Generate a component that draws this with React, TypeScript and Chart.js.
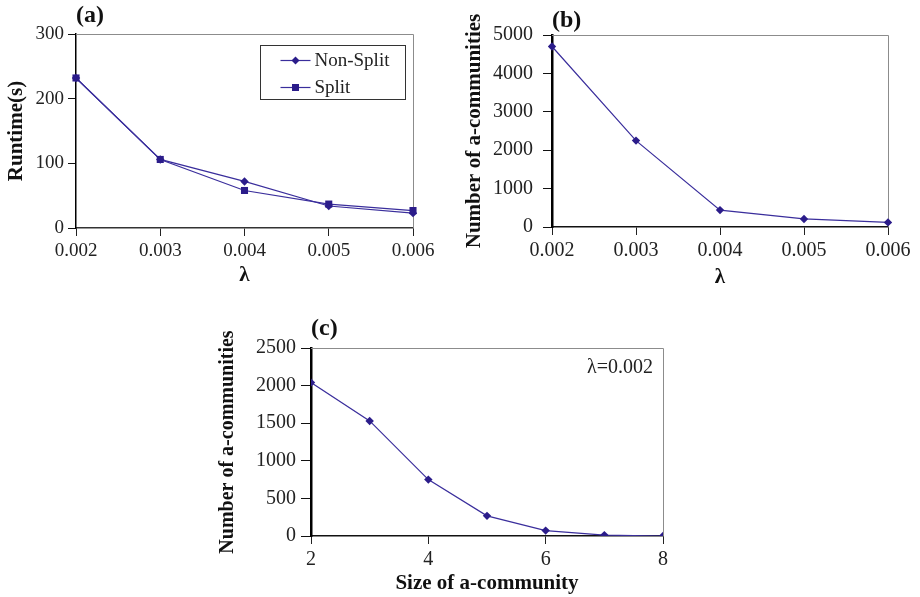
import React, { useEffect, useRef } from 'react';
import { Chart, registerables } from 'chart.js';

Chart.register(...registerables);

// λ thresholds shared by panels (a) and (b)
const lambdaLabels = ['0.002', '0.003', '0.004', '0.005', '0.006'];
// Panel (a): runtime in seconds
const runtimeNonSplit = [232, 106, 72, 34, 23];
const runtimeSplit = [232, 106, 58, 37, 27];
// Panel (b): number of a-communities per λ
const communitiesByLambda = [4700, 2250, 440, 210, 120];
// Panel (c): distribution of a-community sizes at λ = 0.002
const communitySizes = [2, 3, 4, 5, 6, 7, 8];
const communitiesBySize = [2040, 1530, 750, 268, 72, 12, 0];
const sizeTicks = [2, 4, 6, 8];

const SERIF = "'Liberation Serif', 'Times New Roman', serif";
const LINE = '#3a2e9c';
const MARK = '#2b1c8a';
const TEXT = '#222';

// Gray top/right edges of the plot box
const framePlugin = {
  id: 'frame',
  beforeDatasetsDraw(chart: any) {
    const { ctx, chartArea: a } = chart;
    ctx.save();
    ctx.strokeStyle = '#8c8c8c';
    ctx.lineWidth = 1;
    ctx.beginPath();
    ctx.moveTo(a.left, Math.round(a.top) + 0.5);
    ctx.lineTo(Math.round(a.right) + 0.5, Math.round(a.top) + 0.5);
    ctx.lineTo(Math.round(a.right) + 0.5, a.bottom);
    ctx.stroke();
    ctx.restore();
  },
};

// Boxed legend inside the plot area of panel (a)
const boxedLegendPlugin = {
  id: 'boxedLegend',
  afterDraw(chart: any) {
    const { ctx, chartArea: a } = chart;
    const w = 145;
    const h = 54;
    const x0 = Math.round(a.right - 8 - w) + 0.5;
    const y0 = Math.round(a.top + 11) + 0.5;
    ctx.save();
    ctx.strokeStyle = '#333';
    ctx.lineWidth = 1;
    ctx.strokeRect(x0, y0, w, h);
    ctx.font = `19px ${SERIF}`;
    ctx.fillStyle = TEXT;
    ctx.textBaseline = 'middle';
    ctx.textAlign = 'left';
    chart.data.datasets.forEach((ds: any, i: number) => {
      const y = y0 + 15 + i * 27;
      ctx.strokeStyle = LINE;
      ctx.lineWidth = 1.2;
      ctx.beginPath();
      ctx.moveTo(x0 + 20, y);
      ctx.lineTo(x0 + 50, y);
      ctx.stroke();
      ctx.fillStyle = MARK;
      ctx.beginPath();
      if (ds.pointStyle === 'rect') {
        ctx.rect(x0 + 35 - 3.5, y - 3.5, 7, 7);
      } else {
        ctx.moveTo(x0 + 35, y - 4);
        ctx.lineTo(x0 + 39, y);
        ctx.lineTo(x0 + 35, y + 4);
        ctx.lineTo(x0 + 31, y);
        ctx.closePath();
      }
      ctx.fill();
      ctx.fillStyle = TEXT;
      ctx.fillText(ds.label, x0 + 54, y + 1);
    });
    ctx.restore();
  },
};

// λ note in the upper right corner of panel (c)
const lambdaNotePlugin = {
  id: 'lambdaNote',
  afterDraw(chart: any) {
    const { ctx, chartArea: a } = chart;
    ctx.save();
    ctx.font = `20px ${SERIF}`;
    ctx.fillStyle = TEXT;
    ctx.textAlign = 'right';
    ctx.textBaseline = 'middle';
    ctx.fillText('λ=0.002', a.right - 10, a.top + 20);
    ctx.restore();
  },
};

function lineDataset(label: string, data: any[], pointStyle: string, order = 0) {
  return {
    label,
    data,
    borderColor: LINE,
    borderWidth: 1.2,
    backgroundColor: MARK,
    pointBackgroundColor: MARK,
    pointBorderColor: MARK,
    pointBorderWidth: 0,
    pointStyle,
    pointRadius: pointStyle === 'rect' ? 5 : 4.2,
    tension: 0,
    fill: false,
    order,
  };
}

function panelTitle(text: string, padTop: number, padBottom: number) {
  return {
    display: true,
    text,
    align: 'start' as const,
    fullSize: false,
    color: '#111',
    font: { family: SERIF, size: 24, weight: 'bold' as const, lineHeight: 1 },
    padding: { top: padTop, bottom: padBottom },
  };
}

const plainNumber = (v: any) => String(v);

function yScale(opts: {
  max: number; step: number; title: string; width: number; tick: number; pad: number;
  size: number; titleSize: number; titlePad: number; border: number;
}) {
  return {
    min: 0,
    max: opts.max,
    afterFit: (s: any) => { s.width = opts.width; },
    ticks: {
      stepSize: opts.step,
      color: TEXT,
      padding: opts.pad,
      font: { family: SERIF, size: opts.size },
      callback: plainNumber,
    },
    grid: { drawOnChartArea: false, drawTicks: true, tickLength: opts.tick, tickColor: '#111', color: '#111' },
    border: { display: true, color: '#000', width: opts.border },
    title: {
      display: true,
      text: opts.title,
      color: '#111',
      font: { family: SERIF, size: opts.titleSize, weight: 'bold' as const },
      padding: { top: opts.titlePad, bottom: 0 },
    },
  };
}

function xTitle(text: string, size: number, pad: number) {
  return {
    display: true,
    text,
    color: '#111',
    font: { family: SERIF, size, weight: 'bold' as const },
    padding: { top: 0, bottom: pad },
  };
}

function xGrid(tick: number) {
  return { drawOnChartArea: false, drawTicks: true, tickLength: tick, tickColor: '#222', color: '#222' };
}

const baseOptions = {
  responsive: false,
  animation: false as const,
  devicePixelRatio: 1,
  events: [] as any[],
};

function runtimeConfig(): any {
  return {
    type: 'line',
    data: {
      labels: lambdaLabels,
      datasets: [
        lineDataset('Non-Split', runtimeNonSplit, 'rectRot', 1),
        lineDataset('Split', runtimeSplit, 'rect', 0),
      ],
    },
    options: {
      ...baseOptions,
      layout: { padding: { left: 0, right: 42, top: 0, bottom: 0 } },
      plugins: { legend: { display: false }, tooltip: { enabled: false }, title: panelTitle('(a)', 4, 6) },
      scales: {
        x: {
          type: 'category',
          offset: false,
          afterFit: (s: any) => { s.height = 62; },
          ticks: { color: TEXT, padding: 4, font: { family: SERIF, size: 19 }, maxRotation: 0 },
          grid: xGrid(8),
          border: { display: true, color: '#333', width: 1.5 },
          title: xTitle('λ', 21, 2),
        },
        y: yScale({ max: 300, step: 100, title: 'Runtime(s)', width: 76, tick: 8, pad: 4, size: 19, titleSize: 21, titlePad: 4, border: 1.5 }),
      },
    },
    plugins: [framePlugin, boxedLegendPlugin],
  };
}

function lambdaCountConfig(): any {
  return {
    type: 'line',
    data: {
      labels: lambdaLabels,
      datasets: [lineDataset('a-communities', communitiesByLambda, 'rectRot')],
    },
    options: {
      ...baseOptions,
      layout: { padding: { left: 0, right: 27, top: 0, bottom: 0 } },
      plugins: { legend: { display: false }, tooltip: { enabled: false }, title: panelTitle('(b)', 9, 2) },
      scales: {
        x: {
          type: 'category',
          offset: false,
          afterFit: (s: any) => { s.height = 63; },
          ticks: { color: TEXT, padding: 4, font: { family: SERIF, size: 20 }, maxRotation: 0 },
          grid: xGrid(8),
          border: { display: true, color: '#111', width: 1.5 },
          title: xTitle('λ', 21, 0),
        },
        y: yScale({ max: 5000, step: 1000, title: 'Number of a-communities', width: 97, tick: 9, pad: 10, size: 20, titleSize: 21, titlePad: 7, border: 2.5 }),
      },
    },
    plugins: [framePlugin],
  };
}

function sizeCountConfig(): any {
  return {
    type: 'line',
    data: {
      datasets: [
        lineDataset(
          'a-communities',
          communitySizes.map((s, i) => ({ x: s, y: communitiesBySize[i] })),
          'rectRot',
        ),
      ],
    },
    options: {
      ...baseOptions,
      layout: { padding: { left: 0, right: 17, top: 0, bottom: 0 } },
      plugins: { legend: { display: false }, tooltip: { enabled: false }, title: panelTitle('(c)', 17, 7) },
      scales: {
        x: {
          type: 'linear',
          min: 2,
          max: 8,
          afterFit: (s: any) => { s.height = 61; },
          afterBuildTicks: (s: any) => { s.ticks = sizeTicks.map((v) => ({ value: v })); },
          ticks: { color: TEXT, padding: 4, font: { family: SERIF, size: 20 }, maxRotation: 0, callback: plainNumber },
          grid: xGrid(8),
          border: { display: true, color: '#111', width: 1.5 },
          title: xTitle('Size of a-community', 21, 1),
        },
        y: yScale({ max: 2500, step: 500, title: 'Number of a-communities', width: 106, tick: 10, pad: 5, size: 20, titleSize: 20, titlePad: 11, border: 2.5 }),
      },
    },
    plugins: [framePlugin, lambdaNotePlugin],
  };
}

function ChartPanel(props: { make: () => any; left: number; top: number; width: number; height: number }) {
  const ref = useRef<HTMLCanvasElement>(null);
  useEffect(() => {
    const chart = new Chart(ref.current as HTMLCanvasElement, props.make());
    return () => chart.destroy();
  }, []);
  return (
    <canvas
      ref={ref}
      width={props.width}
      height={props.height}
      style={{ position: 'absolute', left: props.left, top: props.top, width: props.width, height: props.height, display: 'block' }}
    />
  );
}

export default function App() {
  return (
    <div style={{ position: 'fixed', left: 0, top: 0, width: 920, height: 597, background: '#fff', overflow: 'hidden' }}>
      <ChartPanel make={runtimeConfig} left={0} top={0} width={455} height={290} />
      <ChartPanel make={lambdaCountConfig} left={455} top={0} width={460} height={290} />
      <ChartPanel make={sizeCountConfig} left={205} top={300} width={475} height={297} />
    </div>
  );
}
